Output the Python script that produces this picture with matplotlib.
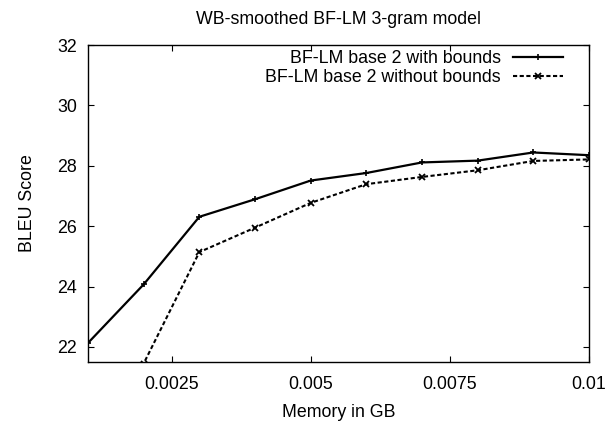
import matplotlib
matplotlib.use("Agg")
import matplotlib.pyplot as plt

plt.rcParams['font.family'] = ['Liberation Sans', 'DejaVu Sans']

memory_gb = [0.001, 0.002, 0.003, 0.004, 0.005, 0.006, 0.007, 0.008, 0.009, 0.010]
bleu_with_bounds = [22.13, 24.07, 26.31, 26.89, 27.51, 27.76, 28.11, 28.17, 28.44, 28.35]
bleu_without_bounds = [19.0, 21.45, 25.14, 25.95, 26.77, 27.39, 27.63, 27.85, 28.16, 28.21]

xticks = [0.0025, 0.005, 0.0075, 0.01]
xticklabels = ["0.0025", "0.005", "0.0075", "0.01"]
yticks = [22, 24, 26, 28, 30, 32]

FS = 12.8

fig = plt.figure(figsize=(6.09, 4.24), dpi=100)
ax = fig.add_axes([88/609, 1-362/424, (589-88)/609, (362-45)/424])

ax.plot(memory_gb, bleu_with_bounds, color='black', lw=1.6, ls='-',
        marker='+', ms=5, mew=1.2, label='BF-LM base 2 with bounds')
ax.plot(memory_gb, bleu_without_bounds, color='black', lw=1.5, ls=(0, (2, 1.2)),
        marker='x', ms=4.5, mew=1.3, label='BF-LM base 2 without bounds')

ax.set_xlim(0.001, 0.01)
ax.set_ylim(21.5, 32)
ax.set_xticks(xticks)
ax.set_xticklabels(xticklabels)
ax.set_yticks(yticks)
ax.tick_params(direction='in', length=4, width=0.8, top=True, right=True,
               labelsize=FS, colors='black')
ax.tick_params(axis='x', pad=10)
ax.tick_params(axis='y', pad=8)
for s in ax.spines.values():
    s.set_linewidth(1.0)

ax.set_xlabel('Memory in GB', fontsize=FS, labelpad=8)
ax.set_ylabel('BLEU Score', fontsize=FS, labelpad=15)
ax.set_title('WB-smoothed BF-LM 3-gram model', fontsize=FS, pad=15)

leg = ax.legend(loc='upper right', bbox_to_anchor=(0.955, 0.995), frameon=False,
                markerfirst=False, fontsize=FS, handlelength=2.8,
                handletextpad=0.7, labelspacing=0.1, borderaxespad=0.0,
                borderpad=0.2)

fig.savefig('out.png', dpi=100)
